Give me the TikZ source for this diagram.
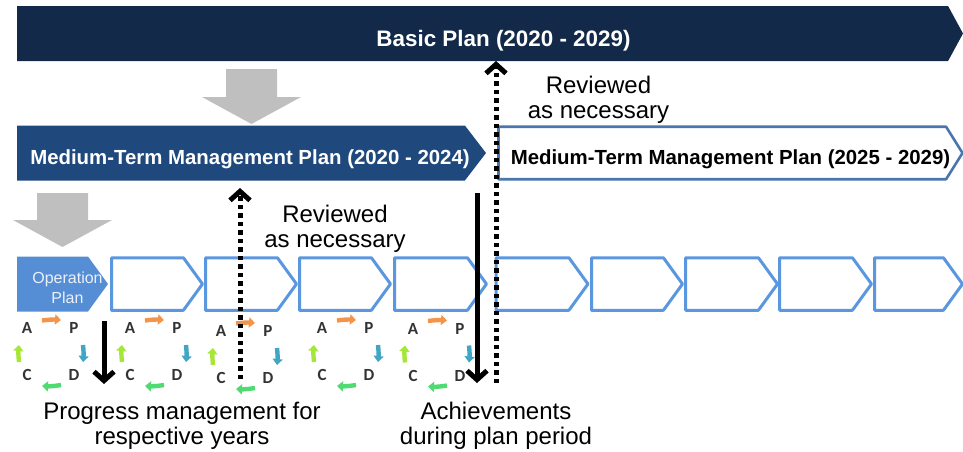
\documentclass[tikz,border=0pt]{standalone}
\usepackage{fontspec}
\setmainfont{Liberation Sans}
\newfontfamily\pdcafont{Carlito}
\usetikzlibrary{arrows.meta,shapes.symbols,calc}
\definecolor{navy}{HTML}{12294A}
\definecolor{midblue}{HTML}{1F497D}
\definecolor{edgeblue}{HTML}{4A76AE}
\definecolor{opblue}{HTML}{558ED5}
\definecolor{lineblue}{HTML}{5B97DE}
\definecolor{grayarrow}{HTML}{BFBFBF}
\definecolor{pdorange}{HTML}{F4934A}
\definecolor{pdteal}{HTML}{41A5C4}
\definecolor{pdgreen}{HTML}{4DDB72}
\definecolor{pdlime}{HTML}{A6E639}
\tikzset{
  x=1pt,y=-1pt,
  chev/.style={signal,signal to=east,signal from=nowhere,inner sep=0pt,outer sep=0pt,anchor=west},
  yearbox/.style={chev,draw=lineblue,fill=white,line width=3pt,line join=round,minimum height=52.5pt,signal pointer angle=108},
  plantext/.style={inner sep=0pt,font=\fontsize{20.4}{20.4}\selectfont\bfseries},
  note/.style={inner sep=0pt,align=center,font=\fontsize{24}{25}\selectfont,text=black},
  letter/.style={inner sep=0pt,font=\pdcafont\fontsize{17}{17}\selectfont\bfseries,text=black!80},
  pd/.style={line width=4.4pt,-{Triangle[width=10pt,length=6pt]}},
  solidarrow/.style={draw=black,line width=5pt,-{Straight Barb[length=9pt,width=20pt,line width=5pt]}},
  dotarrow/.style={draw=black,line width=5pt,dash pattern=on 4.5pt off 4pt,-{Straight Barb[length=9pt,width=20pt,line width=5pt]}},
  bigdown/.style={fill=grayarrow},
}
\begin{document}
\begin{tikzpicture}
\useasboundingbox (0,0) rectangle (963,451);
% plan bars
\node[chev,fill=navy,minimum width=946pt,minimum height=55pt,signal pointer angle=123] (basic) at (17,33.5) {};
\node[plantext,text=white,font=\fontsize{22.4}{22.4}\selectfont\bfseries] (basict) at (503.5,41) {Basic Plan (2020 - 2029)};
\node[chev,fill=midblue,minimum width=469pt,minimum height=55pt,signal pointer angle=105] (mid1) at (17,153) {};
\node[plantext,text=white] (mid1t) at (250,159) {Medium-Term Management Plan (2020 - 2024)};
\node[chev,draw=edgeblue,fill=white,line width=2.6pt,line join=round,minimum width=464pt,minimum height=52.5pt,signal pointer angle=116] (mid2) at (498.5,153) {};
\node[plantext,text=black] (mid2t) at (730.5,159.5) {Medium-Term Management Plan (2025 - 2029)};
% grey arrows
\fill[bigdown] (226,69) -- (277,69) -- (277,97) -- (301,97) -- (251.5,124) -- (202,97) -- (226,97) -- cycle;
\fill[bigdown] (37,193) -- (88,193) -- (88,220) -- (112,220) -- (62.5,247) -- (13,220) -- (37,220) -- cycle;
% yearly boxes
\node[chev,fill=opblue,minimum width=91pt,minimum height=55pt,signal pointer angle=108] (op) at (17,284) {};
\node[inner sep=0pt,align=center,text=white!88!opblue,font=\fontsize{16}{20}\selectfont] (opt) at (67.5,287.5) {Operation\\Plan};
\foreach \n/\x/\w in {1/111.5/91,2/205.5/91,3/299.5/91,4/394.5/92,5/496/92,6/591.5/91,7/685.5/92,8/779.5/92,9/874.5/88}{
  \node[yearbox,minimum width=\w pt] (y\n) at (\x,284) {};
}
% PDCA cycles
\foreach \i/\dx/\dy in {1/0/0,2/103/0,3/194/3,4/295/0,5/386/0.5}{
  \begin{scope}[shift={(\dx,\dy)}]
    \node[letter] (a\i) at (27,328) {A};
    \node[letter] (p\i) at (74,328) {P};
    \node[letter] (c\i) at (27,375) {C};
    \node[letter] (d\i) at (74,375) {D};
  \end{scope}
  \draw[pd,draw=pdorange,pdorange] ([xshift=15pt,yshift=7.5pt]a\i.center) to[bend left=6] ([xshift=-13pt,yshift=8pt]p\i.center);
  \draw[pd,draw=pdteal,pdteal] ([xshift=9pt,yshift=-17pt]p\i.center) to[bend left=6] ([xshift=9pt,yshift=13pt]d\i.center);
  \draw[pd,draw=pdgreen,pdgreen] ([xshift=-13pt,yshift=-10pt]d\i.center) to[bend left=6] ([xshift=15pt,yshift=-11pt]c\i.center);
  \draw[pd,draw=pdlime,pdlime] ([xshift=-8pt,yshift=13pt]c\i.center) to[bend left=6] ([xshift=-8pt,yshift=-17pt]a\i.center);
}
% free ends
\coordinate (s1a) at (104,321);
\coordinate (s1b) at (104,384);
\coordinate (s2a) at (477,193);
\coordinate (s2b) at (477,383);
\coordinate (d1a) at (240,379);
\coordinate (d1b) at (240,188);
\coordinate (d2a) at (496,383);
\coordinate (d2b) at (496,61);
\draw[solidarrow] (s1a) -- (s1b);
\draw[solidarrow] (s2a) -- (s2b);
\draw[dotarrow] (d1a) -- (d1b);
\draw[dotarrow] (d2a) -- (d2b);
% notes
\node[note] (n1) at (598.5,100) {Reviewed\\as necessary};
\node[note] (n2) at (335,228.5) {Reviewed\\as necessary};
\node[note] (n3) at (182,425.5) {Progress management for\\respective years};
\node[note] (n4) at (496,425.5) {Achievements\\during plan period};
\end{tikzpicture}
\end{document}
